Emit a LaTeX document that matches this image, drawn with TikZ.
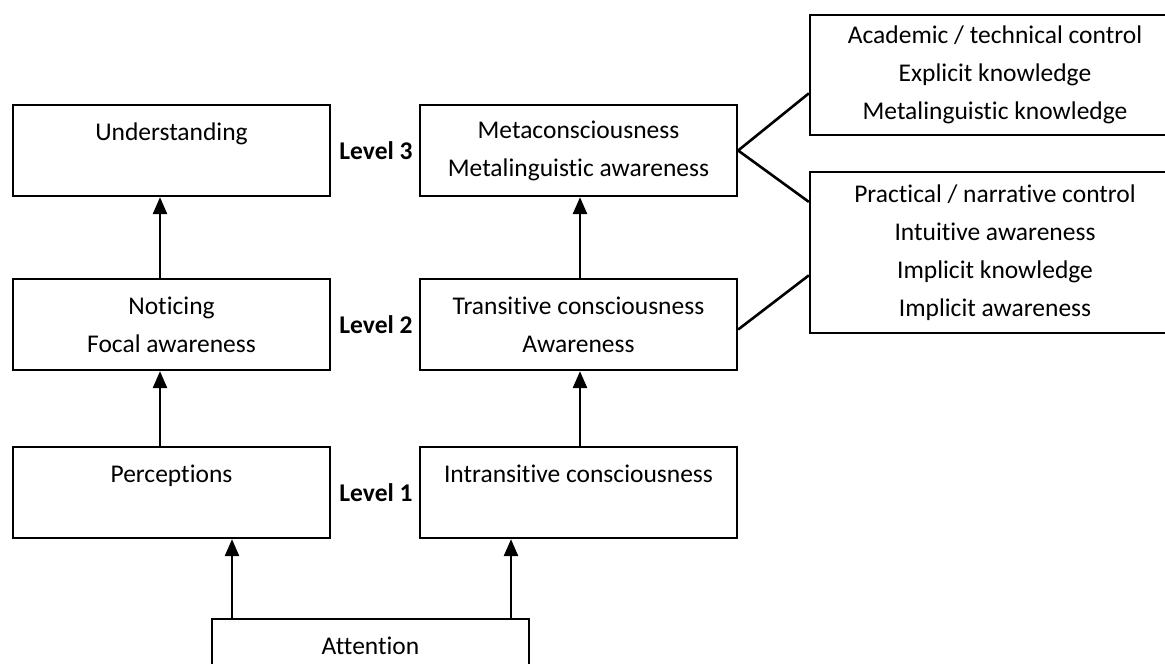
\documentclass[tikz,border=0pt]{standalone}
\usepackage{fontspec}
\setmainfont{Carlito}[Ligatures={NoCommon}]
\usetikzlibrary{arrows.meta,calc}

\tikzset{
  box/.style={draw=black, line width=2.3pt, fill=white, align=center,
    minimum width=317pt, minimum height=91pt, inner sep=0pt,
    font=\fontsize{25.5}{38}\selectfont},
  sidebox/.style={box, minimum width=370pt},
  lvl/.style={font=\fontsize{25.5}{30}\selectfont\bfseries, inner sep=0pt},
  uparrow/.style={line width=2.6pt, -{Triangle[length=17pt,width=14pt]}},
  link/.style={line width=2.6pt}
}
% single label set in the upper part of a box
\newcommand{\toplabel}[1]{#1\\[-12pt]\strut}

\begin{document}
\begin{tikzpicture}[x=1pt,y=-1pt]
  \useasboundingbox (0,0) rectangle (1165,664);

  % left column
  \node[box] (und)  at (171.5,150.5) {\toplabel{Understanding}};
  \node[box] (noti) at (171.5,324.5) {Noticing\\Focal awareness};
  \node[box] (perc) at (171.5,492.5) {\toplabel{Perceptions}};

  % right column
  \node[box] (meta)  at (578.5,150.5) {Metaconsciousness\\Metalinguistic awareness};
  \node[box] (trans) at (578.5,324.5) {Transitive consciousness\\Awareness};
  \node[box] (intra) at (578.5,492.5) {\toplabel{Intransitive consciousness}};

  % common root
  \node[box] (att) at (370.5,664.5) {\toplabel{Attention}};

  % level labels
  \node[lvl] (l3) at (376,150.5) {Level 3};
  \node[lvl] (l2) at (376,324.5) {Level 2};
  \node[lvl] (l1) at (376,492.5) {Level 1};

  % outcome boxes
  \node[sidebox, minimum height=120pt] (acad) at (995,75)
    {Academic / technical control\\Explicit knowledge\\Metalinguistic knowledge};
  \node[sidebox, minimum height=161pt] (prac) at (995,252.5)
    {Practical / narrative control\\Intuitive awareness\\Implicit knowledge\\Implicit awareness};

  % arrow columns
  \coordinate (cl) at (160,0);
  \coordinate (cr) at (580,0);
  \coordinate (al) at (232,0);
  \coordinate (ar) at (511,0);

  \draw[uparrow] (noti.north -| cl) -- (und.south -| cl);
  \draw[uparrow] (perc.north -| cl) -- (noti.south -| cl);
  \draw[uparrow] (trans.north -| cr) -- (meta.south -| cr);
  \draw[uparrow] (intra.north -| cr) -- (trans.south -| cr);
  \draw[uparrow] (att.north -| al) -- (perc.south -| al);
  \draw[uparrow] (att.north -| ar) -- (intra.south -| ar);

  % links to outcome boxes
  \draw[link] ($(acad.north west)!0.65!(acad.south west)$) -- (meta.east)
              -- ($(prac.north west)!0.19!(prac.south west)$);
  \draw[link] ([yshift=-5pt]trans.east) -- ($(prac.north west)!0.64!(prac.south west)$);
\end{tikzpicture}
\end{document}
